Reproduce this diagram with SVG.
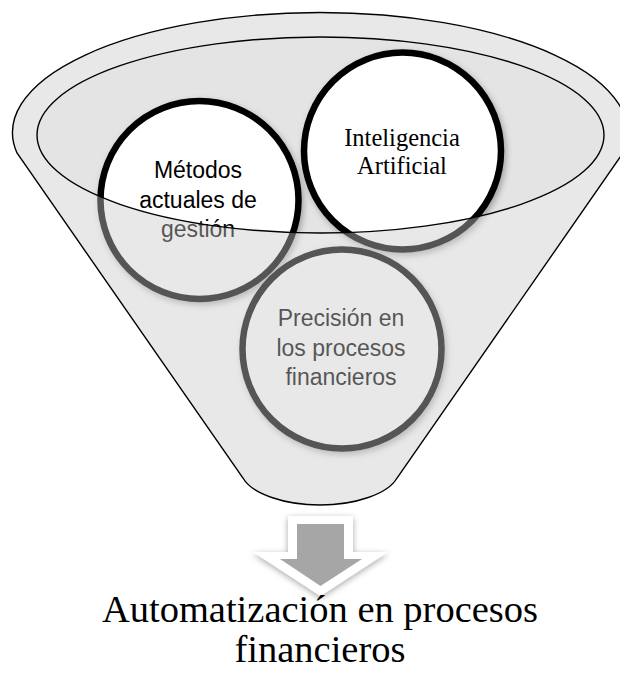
<svg xmlns="http://www.w3.org/2000/svg" width="620" height="677" viewBox="0 0 620 677">
  <style>
    .ring { fill: #ffffff; stroke: #000000; stroke-width: 6.5; filter: url(#sh); }
    .sans { font-family: "Liberation Sans", Arial, sans-serif; font-size: 23px; fill: #000000; text-anchor: middle; }
    .serif { font-family: "Liberation Serif", "Times New Roman", serif; fill: #000000; text-anchor: middle; }
    .edge { fill: none; stroke: #000000; stroke-width: 1.4; }
  </style>
  <defs>
    <filter id="sh" x="-20%" y="-20%" width="140%" height="140%">
      <feDropShadow dx="2" dy="3" stdDeviation="3" flood-color="#000000" flood-opacity="0.3"/>
    </filter>
    <filter id="ash" x="-30%" y="-30%" width="160%" height="160%">
      <feDropShadow dx="0" dy="2" stdDeviation="3" flood-color="#000000" flood-opacity="0.35"/>
    </filter>
  </defs>
  <rect width="620" height="677" fill="#ffffff"/>

  <g id="funnel-back">
    <path d="M17,153 A307.5,120 0 1 1 623,153 L397,478 C388,494 355,505 320,505 C285,505 252,494 243,478 Z" fill="#ffffff"/>
    <ellipse cx="320.5" cy="135" rx="283.5" ry="98" fill="#e4e4e4"/>
  </g>

  <g id="node-metodos">
    <circle class="ring" cx="199.5" cy="200" r="99"/>
    <text class="sans" x="198" y="178">Métodos</text>
    <text class="sans" x="198" y="208">actuales de</text>
    <text class="sans" x="198" y="237">gestión</text>
  </g>

  <g id="node-ia">
    <circle class="ring" cx="402.5" cy="151" r="98.5"/>
    <text class="serif" x="402" y="146" font-size="24.5">Inteligencia</text>
    <text class="serif" x="402" y="174" font-size="24.5">Artificial</text>
  </g>

  <g id="node-precision">
    <circle class="ring" cx="342" cy="349" r="99.5"/>
    <text class="sans" x="341" y="326">Precisión en</text>
    <text class="sans" x="341" y="356">los procesos</text>
    <text class="sans" x="341" y="385">financieros</text>
  </g>

  <g id="funnel-front">
    <path d="M17,153 A307.5,120 0 1 1 623,153 L397,478 C388,494 355,505 320,505 C285,505 252,494 243,478 Z M37,135 A283.5,98 0 1 0 604,135 A283.5,98 0 1 0 37,135 Z" fill="#c8c8c8" fill-opacity="0.424" fill-rule="evenodd"/>
    <path class="edge" d="M17,153 A307.5,120 0 1 1 623,153 L397,478 C388,494 355,505 320,505 C285,505 252,494 243,478 Z"/>
    <ellipse class="edge" cx="320.5" cy="135" rx="283.5" ry="98"/>
  </g>

  <g id="connectors">
    <path d="M288,516 H353 V552 H388 L320.5,596 L253,552 H288 Z" fill="#ffffff" filter="url(#ash)"/>
    <path d="M297,524 H344 V559 H362 L320.5,586 L280,559 H297 Z" fill="#a6a6a6"/>
  </g>

  <g id="result">
    <text class="serif" x="320" y="622" font-size="38.5">Automatización en procesos</text>
    <text class="serif" x="320" y="662" font-size="38.5">financieros</text>
  </g>
</svg>
